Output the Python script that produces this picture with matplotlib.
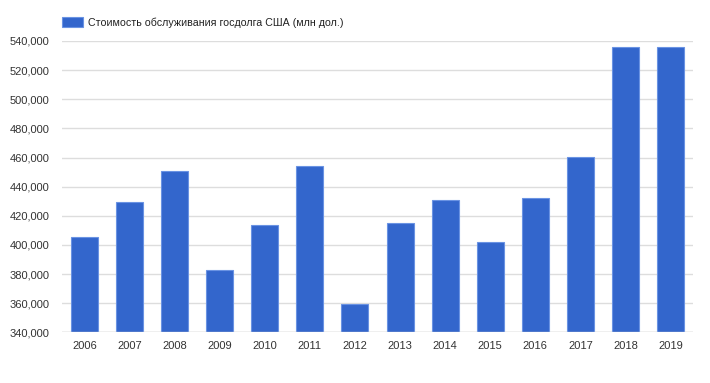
import numpy as np
import matplotlib.pyplot as plt
from matplotlib.ticker import FuncFormatter

plt.rcParams['font.family'] = ['Liberation Sans', 'DejaVu Sans']

years = ['2006', '2007', '2008', '2009', '2010', '2011', '2012',
         '2013', '2014', '2015', '2016', '2017', '2018', '2019']
# стоимость обслуживания госдолга, млн долларов
cost = [405700, 429500, 450900, 382600, 413500, 454300, 359700,
        415300, 430500, 402300, 432500, 460700, 535600, 535600]
series_name = 'Стоимость обслуживания госдолга США (млн дол.)'

fig = plt.figure(figsize=(7.1, 3.83), dpi=100)
ax = fig.add_axes([62 / 710, 1 - 332.3 / 383, 631 / 710, 291.3 / 383])

x = np.arange(len(years))
ax.bar(x, cost, width=0.6, color='#3366cc', edgecolor='#6a93e3',
       linewidth=0.8, label=series_name, zorder=3)

ax.set_xlim(-0.5, len(years) - 0.5)
ax.set_ylim(340000, 540000)
ax.set_yticks(np.arange(340000, 540001, 20000))
ax.yaxis.set_major_formatter(FuncFormatter(lambda v, p: f'{int(v):,}'))
ax.set_xticks(x)
ax.set_xticklabels(years)

ax.grid(axis='y', color='#dddddd', linewidth=1, zorder=0)
ax.tick_params(length=0, labelsize=8, colors='#333333', pad=6)
ax.tick_params(axis='y', pad=9)
for s in ax.spines.values():
    s.set_visible(False)
ax.axhline(340000, color='#cccccc', linewidth=1, zorder=4)

leg = ax.legend(loc='lower left', bbox_to_anchor=(0, 1.045), frameon=False,
                fontsize=7.7, handlelength=2.0, handleheight=1.05,
                handletextpad=0.4, borderpad=0, borderaxespad=0,
                labelcolor='#222222')

fig.savefig('out.png', dpi=100)
